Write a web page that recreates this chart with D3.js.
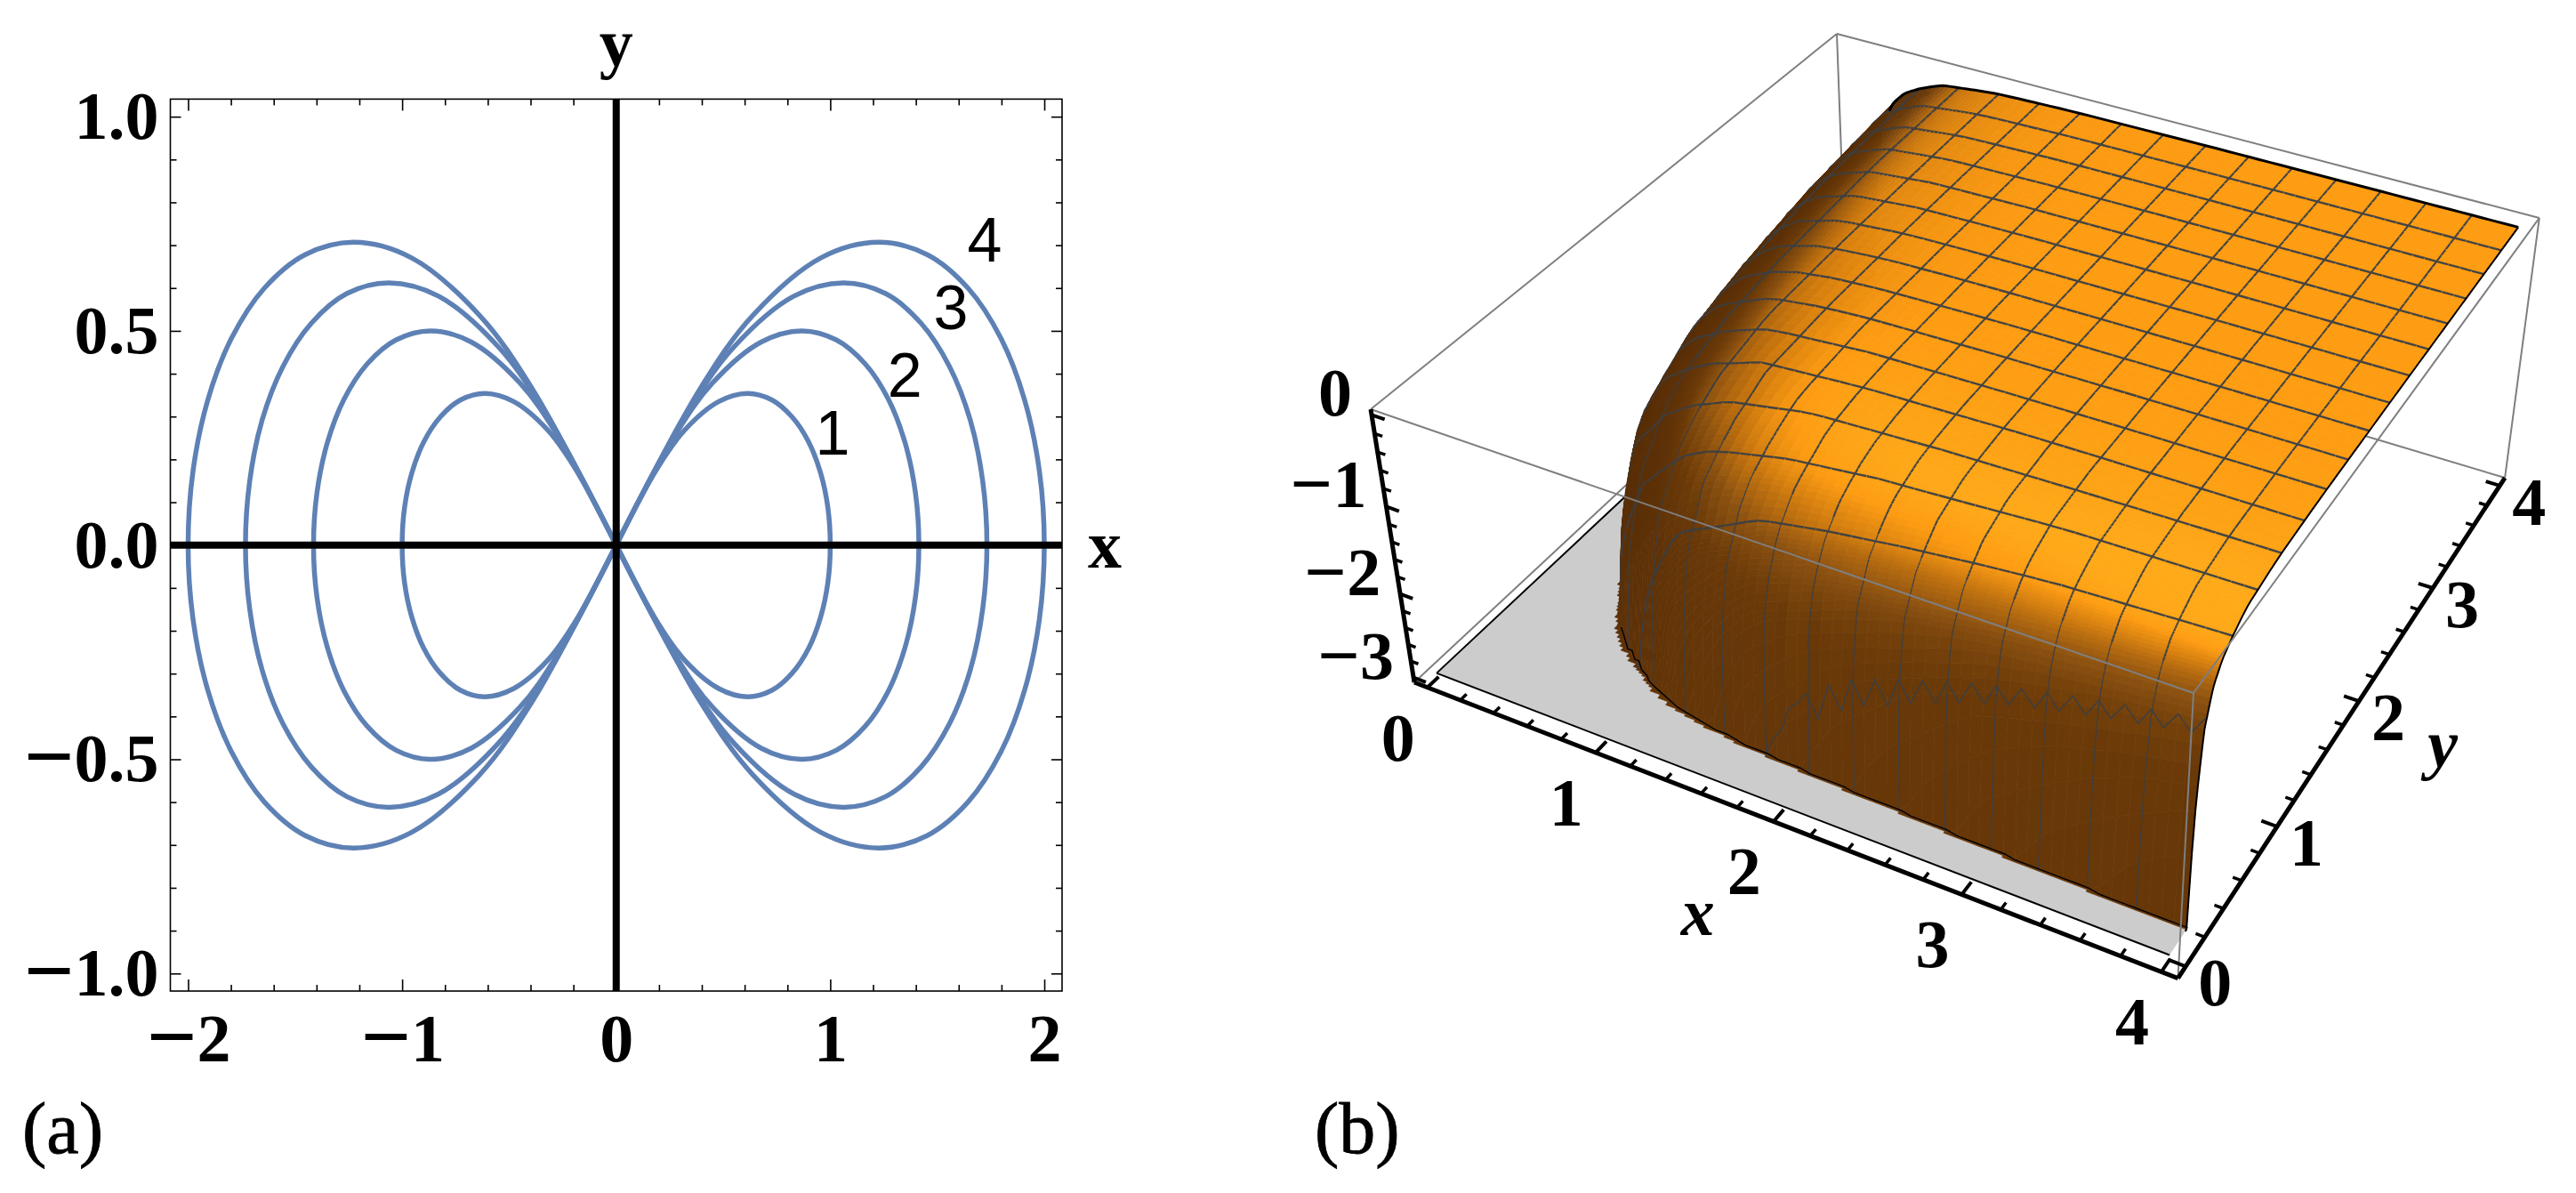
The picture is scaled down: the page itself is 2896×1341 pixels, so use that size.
<!DOCTYPE html>
<html>
<head>
<meta charset="utf-8">
<script src="https://cdn.jsdelivr.net/npm/d3@7"></script>
<style>
  html, body { margin: 0; background: #fff; }
  svg { display: block; }
  text { font-family: "Liberation Serif", serif; fill: #000; }
</style>
</head>
<body>
<div id="chart"></div>
<script>
// panel (a): upper right quarter of each loop
var curve1 = [[1,0],[.989,.087],[.955,.168],[.899,.241],[.822,.299],[.727,.339],[.612,.354],[.479,.335],[.319,.268],[.193,.180],[0,0]];
var curve2 = [[1.414,0],[1.398,.122],[1.350,.238],[1.271,.341],[1.163,.423],[1.028,.479],[.866,.500],[.677,.474],[.451,.379],[.273,.255],[0,0]];
var curve3 = [[1.732,0],[1.712,.150],[1.654,.292],[1.557,.417],[1.424,.518],[1.259,.587],[1.061,.612],[.830,.581],[.553,.464],[.335,.312],[0,0]];
var curve4 = [[2,0],[1.977,.173],[1.909,.337],[1.798,.482],[1.645,.599],[1.453,.678],[1.225,.707],[.958,.671],[.638,.536],[.386,.360],[0,0]];
var curves = [curve1, curve2, curve3, curve4];
var curveNames = ['1', '2', '3', '4'];
var curveNameAt = [[.93, .211], [1.267, .346], [1.483, .503], [1.64, .662]];
var xMajor = [-2, -1, 0, 1, 2];
var yMajor = [-1, -.5, 0, .5, 1];

// panel (b): edge of the floor patch, (t, other coordinate)
var rimT = [.15, .165, .17, .19, .25, .31, .43, .62, .9, 1.17, 1.65, 2.97, 3.75, 4];
var rimV = [5, 4, 3.75, 2.97, 1.65, 1.17, .9, .62, .43, .31, .25, .19, .17, .165];
// drop of the surface against distance ratio from that edge
var dropRatio = [1, 1.02, 1.05, 1.1, 1.2, 1.3, 1.5, 2, 2.5, 3, 4, 6, 9, 14, 25];
var dropZ = [-3, -2.4, -1.9, -1.45, -1.05, -.85, -.6, -.36, -.25, -.18, -.09, -.04, -.02, -.01, -.003];
// noisy mesh line at y = 0.25
var wavyX = [1.75,1.8,1.85,1.9,1.95,2,2.06,2.125,2.19,2.25,2.31,2.375,2.44,2.5,2.56,2.625,2.69,2.75,2.81,2.875,2.94,3,3.06,3.125,3.19,3.25,3.31,3.375,3.44,3.5,3.56,3.625,3.69,3.75,3.81,3.875,3.94,4];
var wavyZ = [-3,-2.75,-2.6,-2.3,-2.2,-2.05,-2.3,-1.85,-2.1,-1.7,-1.95,-1.6,-1.85,-1.5,-1.72,-1.42,-1.62,-1.33,-1.52,-1.25,-1.43,-1.18,-1.35,-1.12,-1.28,-1.06,-1.22,-1,-1.16,-.95,-1.1,-.9,-1.05,-.85,-1,-.8,-.95,-.75];
var bTicksXY = [0, 1, 2, 3, 4];
var bTicksZ = [0, -1, -2, -3];
// shade against light value
var shadeAt = [-.3, .4, .5, .6, .72, .82, .93];
var shadeColor = ['#4a2605', '#5f3207', '#6b3a08', '#8a5010', '#c8760f', '#fe9c12', '#ffaf1c'];

var svg = d3.select('#chart').append('svg').attr('width', 2896).attr('height', 1341);

// the minus of the original is wide and heavy: a bigger glyph on the same line.
// a dy on a tspan replaces the dy of its text, so that one is carried over
function bigMinus(sel, size){
    sel.each(function(){
        var t = d3.select(this), s = t.text();
        if (s.charAt(0) !== '\u2212') return;
        var base = (parseFloat(t.attr('dy')) || 0) * 76, lift = (size - 76) / 4;
        t.attr('dy', null).text('');
        t.append('tspan').attr('font-size', size).attr('dy', base + lift).text('\u2212');
        t.append('tspan').attr('dy', -lift).text(s.slice(1));
    });
}

/* ---------- panel (a) ---------- */
var x = d3.scaleLinear().domain([-2.083, 2.083]).range([191.5, 1194]);
var y = d3.scaleLinear().domain([-1.041, 1.041]).range([1114, 111.4]);
var a = svg.append('g');
var minorX = d3.range(-20, 21, 2).map(function(d){ return d / 10; }).filter(function(d){ return xMajor.indexOf(d) < 0; });
var minorY = d3.range(-10, 11).map(function(d){ return d / 10; }).filter(function(d){ return yMajor.indexOf(d) < 0; });

function ticks(axis, pos, values, size, fmt, pad){
    var g = a.append('g').attr('transform', pos)
        .call(axis.tickValues(values).tickSize(size).tickPadding(pad || 0).tickFormat(fmt || ''));
    g.select('.domain').remove();
    g.selectAll('line').attr('stroke', '#000').attr('stroke-width', 1.6);
    g.selectAll('text').attr('font-size', 76).attr('font-weight', 'bold')
        .style('font-family', '"Liberation Serif", serif').call(bigMinus, 100);
    return g;
}
var bottom = 'translate(0,' + y.range()[0] + ')', topEdge = 'translate(0,' + y.range()[1] + ')';
var left = 'translate(' + x.range()[0] + ',0)', rightEdge = 'translate(' + x.range()[1] + ',0)';
ticks(d3.axisBottom(x), bottom, minorX, -7);
ticks(d3.axisBottom(x), bottom, xMajor, -13, d3.format('d'), 25);
ticks(d3.axisTop(x), topEdge, minorX, -7);
ticks(d3.axisTop(x), topEdge, xMajor, -13);
ticks(d3.axisLeft(y), left, minorY, -7);
ticks(d3.axisLeft(y), left, yMajor, -12, d3.format('.1f'), 13);
ticks(d3.axisRight(y), rightEdge, minorY, -7);
ticks(d3.axisRight(y), rightEdge, yMajor, -12);

a.append('rect').attr('x', x.range()[0]).attr('y', y.range()[1])
    .attr('width', x.range()[1] - x.range()[0]).attr('height', y.range()[0] - y.range()[1])
    .attr('fill', 'none').attr('stroke', '#000').attr('stroke-width', 1.6);

// a curve is symmetric, so each of the two loops comes from one quarter
var loop = d3.line().x(function(d){ return x(d[0]); }).y(function(d){ return y(d[1]); }).curve(d3.curveCatmullRom.alpha(.5));
curves.forEach(function(c){
    [1, -1].forEach(function(side){
        var upper = c.map(function(d){ return [side * d[0], d[1]]; });
        var lower = c.map(function(d){ return [side * d[0], -d[1]]; }).reverse();
        a.append('path').attr('d', loop(lower.concat(upper.slice(1))))
            .attr('fill', 'none').attr('stroke', '#5e81b5').attr('stroke-width', 5.5);
    });
});

a.append('line').attr('x1', x.range()[0]).attr('x2', x.range()[1]).attr('y1', y(0)).attr('y2', y(0))
    .attr('stroke', '#000').attr('stroke-width', 8);
a.append('line').attr('x1', x(0)).attr('x2', x(0)).attr('y1', y.range()[0]).attr('y2', y.range()[1])
    .attr('stroke', '#000').attr('stroke-width', 8);

a.selectAll('.cname').data(curveNames).enter().append('text').attr('class', 'cname')
    .attr('x', function(d, i){ return x(curveNameAt[i][0]); })
    .attr('y', function(d, i){ return y(curveNameAt[i][1]); })
    .attr('font-size', 70).style('font-family', '"Liberation Sans", sans-serif')
    .text(function(d){ return d; });

a.append('text').attr('x', x(0)).attr('y', 74).attr('text-anchor', 'middle')
    .attr('font-size', 76).attr('font-weight', 'bold').text('y');
a.append('text').attr('x', 1242).attr('y', 638).attr('text-anchor', 'middle')
    .attr('font-size', 76).attr('font-weight', 'bold').text('x');
a.append('text').attr('x', 25).attr('y', 1296).attr('font-size', 82)
    .attr('stroke', '#000').attr('stroke-width', .8).text('(a)');

/* ---------- panel (b) ---------- */
var sideX = d3.scaleLinear().domain([-.08, 4.08]).range([0, 1]);
var sideY = d3.scaleLinear().domain([-.08, 4.08]).range([0, 1]);
var sideZ = d3.scaleLinear().domain([.06, -3.06]).range([0, 1]);
var boxO = [1541, 460], boxA = [2466, 779], boxB = [2065, 38], boxC = [1590, 767];
var weightA = .8796, weightB = 1.2305, weightC = 1.075;

function project(px, py, pz){
    var u = sideX(px), v = sideY(py), w = sideZ(pz);
    var den = 1 + (weightA - 1) * u + (weightB - 1) * v + (weightC - 1) * w;
    var rest = 1 - u - v - w;
    return [0, 1].map(function(k){
        return (boxO[k] * rest + weightA * u * boxA[k] + weightB * v * boxB[k] + weightC * w * boxC[k]) / den;
    });
}

var rim = d3.scaleLinear().domain(rimT).range(rimV).clamp(true);
var drop = d3.scaleLinear().domain(dropRatio).range(dropZ).clamp(true);
var shade = d3.scaleLinear().domain(shadeAt).range(shadeColor).clamp(true);
var wallBand = d3.scaleLinear().domain([-2.7, -1.7, -.9]).range([0, 1, 0]).clamp(true);
// stripes on the wall follow the teeth of the noisy line
var stripe = d3.scaleLinear().domain(wavyX).range(wavyZ.map(function(d, k){
    if (k < 1 || k > wavyZ.length - 2) return 0;
    return d - (wavyZ[k - 1] + wavyZ[k + 1]) / 2;
})).clamp(true);
var zMin = -3;

function surfaceZ(px, py){
    return Math.max(zMin, drop(py / rim(px)) + drop(px / rim(py)));
}

var b = svg.append('g');
var path3 = d3.line().x(function(d){ return d[0]; }).y(function(d){ return d[1]; });

function edge(g, p, q, color, width){
    g.append('path').attr('d', path3([project.apply(null, p), project.apply(null, q)]))
        .attr('fill', 'none').attr('stroke', color).attr('stroke-width', width);
}
var lo = -.08, hi = 4.08, zt = .06, zb = -3.06;

// rendering grid, finer near the walls
function knots(){
    return [].concat(
        d3.range(0, 28).map(function(i){ return .15 + i * .0125; }),
        d3.range(0, 20).map(function(i){ return .5 + i * .025; }),
        d3.range(0, 49).map(function(i){ return 1 + i * .0625; })
    );
}
var gridX = knots(), gridY = knots();
function isMesh(v){
    var k = v / .25;
    return Math.abs(k - Math.round(k)) < 1e-6 && v > .1 && v < 3.9;
}
function firstY(d){
    return gridY.filter(function(v){ return surfaceZ(d, v) > zMin; })[0];
}

// box edges behind the surface
[[[lo, lo, zt], [lo, hi, zt]], [[lo, hi, zt], [hi, hi, zt]], [[lo, hi, zt], [lo, hi, zb]],
 [[lo, lo, zb], [lo, hi, zb]], [[lo, hi, zb], [hi, hi, zb]]].forEach(function(e){
    edge(b, e[0], e[1], '#7f7f7f', 2);
});

// gray floor only where the function is below the plot range
var floorEdge = gridX.filter(function(d){ return firstY(d) !== undefined; }).reverse().map(function(d){ return [d, firstY(d)]; });
b.append('path').attr('d', path3([[0, 0], [4, 0]].concat(floorEdge, [[0, 4]]).map(function(d){ return project(d[0], d[1], zMin); })) + 'Z')
    .attr('fill', '#cccccc');
edge(b, [0, 0, zMin], [4, 0, zMin], '#000', 2);
edge(b, [0, 0, zMin], [0, 4, zMin], '#000', 2);

// light value for each cell, blurred so the shading has no bands
var nx = gridX.length - 1, ny = gridY.length - 1;
var lit = new Float64Array(nx * ny);
gridX.slice(0, -1).forEach(function(x0, i){
    var x1 = gridX[i + 1];
    gridY.slice(0, -1).forEach(function(y0, j){
        var y1 = gridY[j + 1];
        var z00 = surfaceZ(x0, y0), z10 = surfaceZ(x1, y0), z11 = surfaceZ(x1, y1), z01 = surfaceZ(x0, y1);
        var zx = (z10 + z11 - z00 - z01) / (2 * (x1 - x0));
        var zy = (z01 + z11 - z00 - z10) / (2 * (y1 - y0));
        var len = Math.sqrt(zx * zx + zy * zy + 1);
        var clipped = Math.min(z00, z10, z11, z01) <= zMin;
        lit[i + j * nx] = clipped ? .45 : (-.35 * zx + .45 * zy + .82) / len;
    });
});
d3.blur2({data: lit, width: nx, height: ny}, 3, 3);

var items = [];
gridX.slice(0, -1).forEach(function(x0, i){
    var x1 = gridX[i + 1];
    for (var j = ny - 1; j >= 0; j--) {
        var y0 = gridY[j], y1 = gridY[j + 1];
        var z00 = surfaceZ(x0, y0), z10 = surfaceZ(x1, y0), z11 = surfaceZ(x1, y1), z01 = surfaceZ(x0, y1);
        if (z00 <= zMin && z10 <= zMin && z11 <= zMin && z01 <= zMin) continue;
        var light = lit[i + j * nx] + .25 * stripe((x0 + x1) / 2) * wallBand((z00 + z10 + z11 + z01) / 4);
        items.push({ d: path3([project(x0, y0, z00), project(x1, y0, z10), project(x1, y1, z11), project(x0, y1, z01)]) + 'Z', fill: shade(light) });
        // mesh edges go with the nearer cell so that they stay on top of the seam
        if (isMesh(x0) && (z00 > zMin || z01 > zMin))
            items.push({ d: path3([project(x0, y0, z00), project(x0, y1, z01)]), line: z00 < -.5 ? 1.3 : 2.1 });
        if (isMesh(y1) && y1 > .3 && (z11 > zMin || z01 > zMin))
            items.push({ d: path3([project(x0, y1, z01), project(x1, y1, z11)]), line: 2.4 });
    }
});

b.append('g').selectAll('path').data(items).enter().append('path')
    .attr('d', function(d){ return d.d; })
    .attr('fill', function(d){ return d.fill || 'none'; })
    .attr('stroke', function(d){ return d.fill || '#3a3f44'; })
    .attr('stroke-width', function(d){ return d.fill ? .7 : d.line; })
    .attr('stroke-opacity', function(d){ return d.fill ? 1 : .95; });

// the noisy line
b.append('path').attr('d', path3(wavyX.map(function(d, i){ return project(d, .25, wavyZ[i]); })))
    .attr('fill', 'none').attr('stroke', '#3a3f44').attr('stroke-width', 1.6).attr('stroke-opacity', .9);

// surface outline on its far sides and at the floor
var backLine = gridX.filter(function(d){ return d >= .3; }).map(function(d){ return project(d, 4, surfaceZ(d, 4)); });
var sideLine = gridY.filter(function(d){ return d >= .16; }).map(function(d){ return project(4, d, surfaceZ(4, d)); });
var baseLine = gridX.filter(function(d){ return d >= .6; }).map(function(d){ return project(d, firstY(d), zMin); });
[[backLine, 3], [sideLine, 2], [baseLine, 1.4]].forEach(function(l){
    b.append('path').attr('d', path3(l[0])).attr('fill', 'none').attr('stroke', '#000').attr('stroke-width', l[1]);
});

// box edges in front of the surface
[[[lo, lo, zt], [hi, lo, zt]], [[hi, lo, zt], [hi, hi, zt]], [[hi, lo, zt], [hi, lo, zb]], [[hi, hi, zt], [hi, hi, zb]]].forEach(function(e){
    edge(b, e[0], e[1], '#7f7f7f', 2);
});

// axes lie on the box edges
edge(b, [lo, lo, zb], [hi, lo, zb], '#000', 5);
edge(b, [hi, lo, zb], [hi, hi, zb], '#000', 5);
edge(b, [lo, lo, zt], [lo, lo, zb], '#000', 5);

function isWhole(d){ return Math.abs(d - Math.round(d)) < 1e-6; }
d3.range(0, 21).map(function(d){ return d / 5; }).forEach(function(d){
    var big = isWhole(d);
    edge(b, [d, lo, zb], [d, lo + (big ? .09 : .05), zb], '#000', big ? 4 : 3.5);
    edge(b, [hi, d, zb], [hi - (big ? .08 : .045), d, zb], '#000', big ? 4 : 3.5);
});
d3.range(-15, 1).map(function(d){ return d / 5; }).forEach(function(d){
    var big = isWhole(d);
    edge(b, [lo, lo, d], [lo + (big ? .075 : .045), lo, d], '#000', big ? 4 : 3.5);
});

function bLabel(p, dx, dy, txt, anchor, extra){
    var at = project.apply(null, p);
    var t = b.append('text').attr('x', at[0] + dx).attr('y', at[1] + dy)
        .attr('text-anchor', anchor).attr('font-size', 76).attr('font-weight', 'bold').text(txt);
    if (extra) t.attr('font-style', extra);
    t.call(bigMinus, 84);
}
bTicksXY.forEach(function(d){
    bLabel([d, lo, zb], -33, 82, String(d), 'middle');
    bLabel([hi, d, zb], 33, 44, String(d), 'middle');
});
bTicksZ.forEach(function(d){
    bLabel([lo, lo, d], -22, 1, d3.format('d')(d), 'end');
});
bLabel([2, lo, zb], -85, 128, 'x', 'middle', 'italic');
bLabel([hi, 2, zb], 94, 74, 'y', 'middle', 'italic');

b.append('text').attr('x', 1478).attr('y', 1296).attr('font-size', 82)
    .attr('stroke', '#000').attr('stroke-width', .8).text('(b)');
</script>
</body>
</html>
